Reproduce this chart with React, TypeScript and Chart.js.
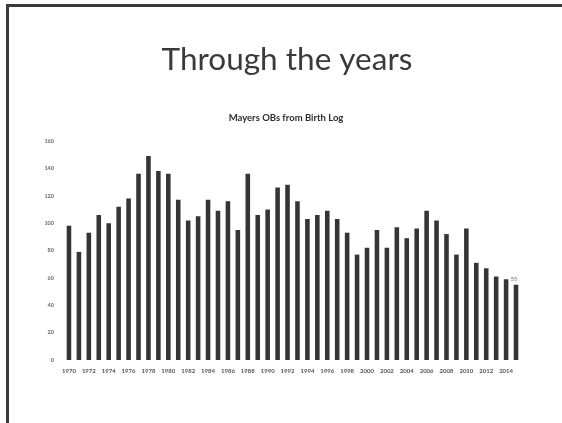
import React, { useEffect, useRef } from "react";
import { Chart, registerables } from "chart.js";

Chart.register(...registerables);

// Births logged per year, 1970–2015
const years: string[] = [
  "1970", "1971", "1972", "1973", "1974", "1975", "1976", "1977", "1978", "1979",
  "1980", "1981", "1982", "1983", "1984", "1985", "1986", "1987", "1988", "1989",
  "1990", "1991", "1992", "1993", "1994", "1995", "1996", "1997", "1998", "1999",
  "2000", "2001", "2002", "2003", "2004", "2005", "2006", "2007", "2008", "2009",
  "2010", "2011", "2012", "2013", "2014", "2015",
];

const births: number[] = [
  98, 79, 93, 106, 100, 112, 118, 136, 149, 138,
  136, 117, 102, 105, 117, 109, 116, 95, 136, 106,
  110, 126, 128, 116, 103, 106, 109, 103, 93, 77,
  82, 95, 82, 97, 89, 96, 109, 102, 92, 77,
  96, 71, 67, 61, 59, 55,
];

const yTicks: number[] = [0, 20, 40, 60, 80, 100, 120, 140, 160];

const slideTitle = "Through the years";
const chartTitle = "Mayers OBs from Birth Log";

// Slide heading and chart heading, centred on the slide rather than the plot
const headings = {
  id: "headings",
  afterDraw(chart: Chart) {
    const ctx = chart.ctx;
    ctx.save();
    ctx.textAlign = "center";
    ctx.textBaseline = "middle";
    ctx.fillStyle = "#3a3a3a";
    ctx.font = "31.5px Lato, 'Open Sans', sans-serif";
    ctx.fillText(slideTitle, 287, 60);
    ctx.fillStyle = "#2e2e2e";
    ctx.font = "bold 9.5px Lato, 'Open Sans', sans-serif";
    ctx.fillText(chartTitle, 286, 118);
    ctx.restore();
  },
};

// Small value label above the most recent bar
const lastValueLabel = {
  id: "lastValueLabel",
  afterDatasetsDraw(chart: Chart) {
    const meta = chart.getDatasetMeta(0);
    const idx = births.length - 1;
    const bar = meta.data[idx] as any;
    if (!bar) return;
    const ctx = chart.ctx;
    ctx.save();
    ctx.font = "bold 5.5px Lato, sans-serif";
    ctx.fillStyle = "#8a8a8a";
    ctx.textAlign = "center";
    ctx.textBaseline = "bottom";
    ctx.fillText(String(births[idx]), bar.x - 2, bar.y - 3);
    ctx.restore();
  },
};

export default function App() {
  const canvasRef = useRef<HTMLCanvasElement | null>(null);

  useEffect(() => {
    if (!canvasRef.current) return;
    const chart = new Chart(canvasRef.current, {
      type: "bar",
      data: {
        labels: years,
        datasets: [
          {
            data: births,
            backgroundColor: "#353535",
            borderWidth: 0,
            barPercentage: 0.46,
            categoryPercentage: 1,
          },
        ],
      },
      plugins: [headings, lastValueLabel],
      options: {
        animation: false,
        responsive: false,
        maintainAspectRatio: false,
        layout: { padding: { left: 34, right: 41, top: 141, bottom: 39 } },
        plugins: {
          legend: { display: false },
          tooltip: { enabled: false },
          title: { display: false },
        },
        scales: {
          x: {
            grid: { display: false, drawTicks: false },
            border: { display: false },
            ticks: {
              autoSkip: false,
              maxRotation: 0,
              minRotation: 0,
              padding: 7,
              color: "#555555",
              font: { family: "Lato, sans-serif", size: 6, weight: "bold" },
              callback: (_v: any, i: number) => (i % 2 === 0 ? years[i] : ""),
            },
            afterFit: (scale: any) => {
              scale.height = 24;
            },
          },
          y: {
            min: yTicks[0],
            max: yTicks[yTicks.length - 1],
            grid: { display: false, drawTicks: false },
            border: { display: false },
            afterBuildTicks: (scale: any) => {
              scale.ticks = yTicks.map((v) => ({ value: v }));
            },
            ticks: {
              padding: 10,
              color: "#666666",
              font: { family: "Lato, sans-serif", size: 5.5, weight: "bold" },
            },
            afterFit: (scale: any) => {
              scale.width = 30;
            },
          },
        },
      },
    });
    return () => chart.destroy();
  }, []);

  return (
    <div style={{ position: "absolute", left: 0, top: 0, width: 562, height: 423, background: "#fff", overflow: "hidden" }}>
      <canvas ref={canvasRef} width={562} height={423} style={{ position: "absolute", left: 0, top: 0 }} />
      <div
        style={{
          position: "absolute",
          left: 6,
          top: 4,
          width: 562,
          height: 430,
          borderLeft: "3px solid #3a3a3a",
          borderTop: "3px solid #3a3a3a",
          pointerEvents: "none",
        }}
      />
    </div>
  );
}
